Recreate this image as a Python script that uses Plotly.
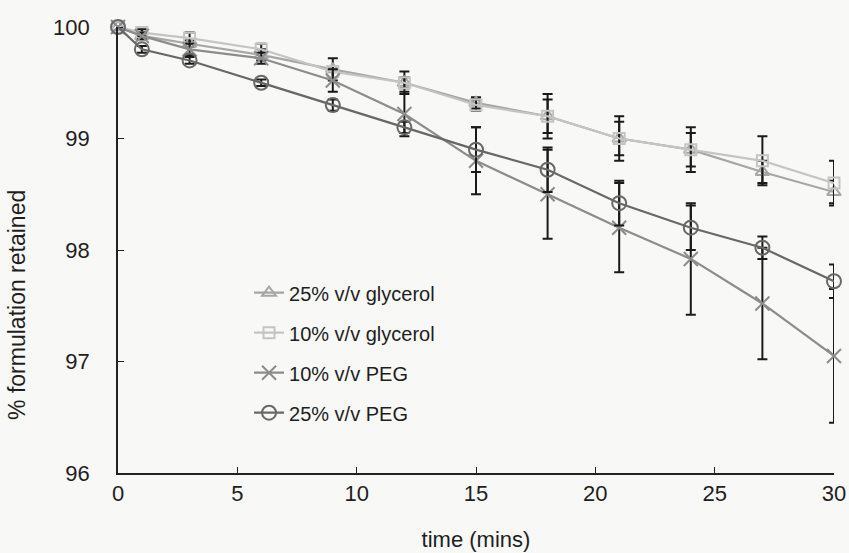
import plotly.graph_objects as go

time_min = [0, 1, 3, 6, 9, 12, 15, 18, 21, 24, 27, 30]

gly25 = [100, 99.92, 99.85, 99.75, 99.62, 99.5, 99.32, 99.2, 99.0, 98.9, 98.7, 98.52]
gly25_err = [0, 0.03, 0.03, 0.05, 0.1, 0.1, 0.05, 0.15, 0.15, 0.15, 0.1, 0.1]

gly10 = [100, 99.95, 99.9, 99.8, 99.6, 99.5, 99.3, 99.2, 99.0, 98.9, 98.8, 98.6]
gly10_err = [0, 0.03, 0.05, 0.05, 0.05, 0.05, 0.05, 0.2, 0.2, 0.2, 0.22, 0.2]

peg10 = [100, 99.92, 99.8, 99.72, 99.52, 99.22, 98.8, 98.5, 98.2, 97.92, 97.52, 97.05]
peg10_err = [0, 0.03, 0.05, 0.05, 0.1, 0.2, 0.3, 0.4, 0.4, 0.5, 0.5, 0.6]

peg25 = [100, 99.8, 99.7, 99.5, 99.3, 99.1, 98.9, 98.72, 98.42, 98.2, 98.02, 97.72]
peg25_err = [0, 0.03, 0.03, 0.03, 0.05, 0.05, 0.2, 0.2, 0.2, 0.2, 0.1, 0.15]

series = [
    ("25% v/v glycerol", gly25, gly25_err, "triangle-up-open", "#a6a6a6", 12),
    ("10% v/v glycerol", gly10, gly10_err, "square-open", "#c4c4c4", 11),
    ("10% v/v PEG", peg10, peg10_err, "x-thin-open", "#8c8c8c", 14),
    ("25% v/v PEG", peg25, peg25_err, "circle-open", "#686868", 14),
]

fig = go.Figure()
for i, (name, vals, errs, sym, col, sz) in enumerate(series):
    fig.add_trace(go.Scatter(
        x=time_min, y=vals, name=name, mode="lines+markers",
        line=dict(color=col, width=2.2),
        marker=dict(symbol=sym, size=sz, color=col, line=dict(color=col, width=2)),
        error_y=dict(type="data", array=errs, visible=True, color="#1a1a1a",
                     thickness=2, width=5),
        legendgroup="g%d" % i, legendrank=i + 1,
        cliponaxis=False,
    ))

font_family = "Liberation Sans, Arial, sans-serif"
fig.update_layout(
    width=849, height=553,
    paper_bgcolor="#f8f8f7", plot_bgcolor="#f8f8f7",
    margin=dict(l=118, r=15, t=27, b=80, autoexpand=False),
    font=dict(family=font_family, size=22, color="#1e1e1e"),
    showlegend=True,
    legend=dict(x=0.183, y=0.448, xanchor="left", yanchor="top",
                bgcolor="rgba(0,0,0,0)", font=dict(size=20, color="#1e1e1e"),
                tracegroupgap=11, itemwidth=30),
    xaxis=dict(range=[0, 30], tickvals=[0, 5, 10, 15, 20, 25, 30],
               showgrid=False, zeroline=False, showline=True, linecolor="#222222",
               linewidth=1.6, ticks="inside", ticklen=6, tickcolor="#222222",
               ticklabelstandoff=0, tickfont=dict(size=22), automargin=False,
               title=dict(text="time (mins)", standoff=26, font=dict(size=22))),
    yaxis=dict(range=[96, 100], tickvals=[96, 97, 98, 99, 100],
               showgrid=False, zeroline=False, showline=True, linecolor="#222222",
               linewidth=1.6, ticks="inside", ticklen=6, tickcolor="#222222",
               ticklabelstandoff=22, tickfont=dict(size=22), automargin=False),
    annotations=[dict(text="% formulation retained", textangle=-90,
                      xref="paper", yref="paper", x=-0.141, y=0.377,
                      xanchor="center", yanchor="middle", showarrow=False,
                      font=dict(size=23, color="#1e1e1e"))],
)

fig.write_html("out.html", config={"displayModeBar": False},
               post_script="document.body.style.margin='0';document.body.style.background='#f8f8f7';")
